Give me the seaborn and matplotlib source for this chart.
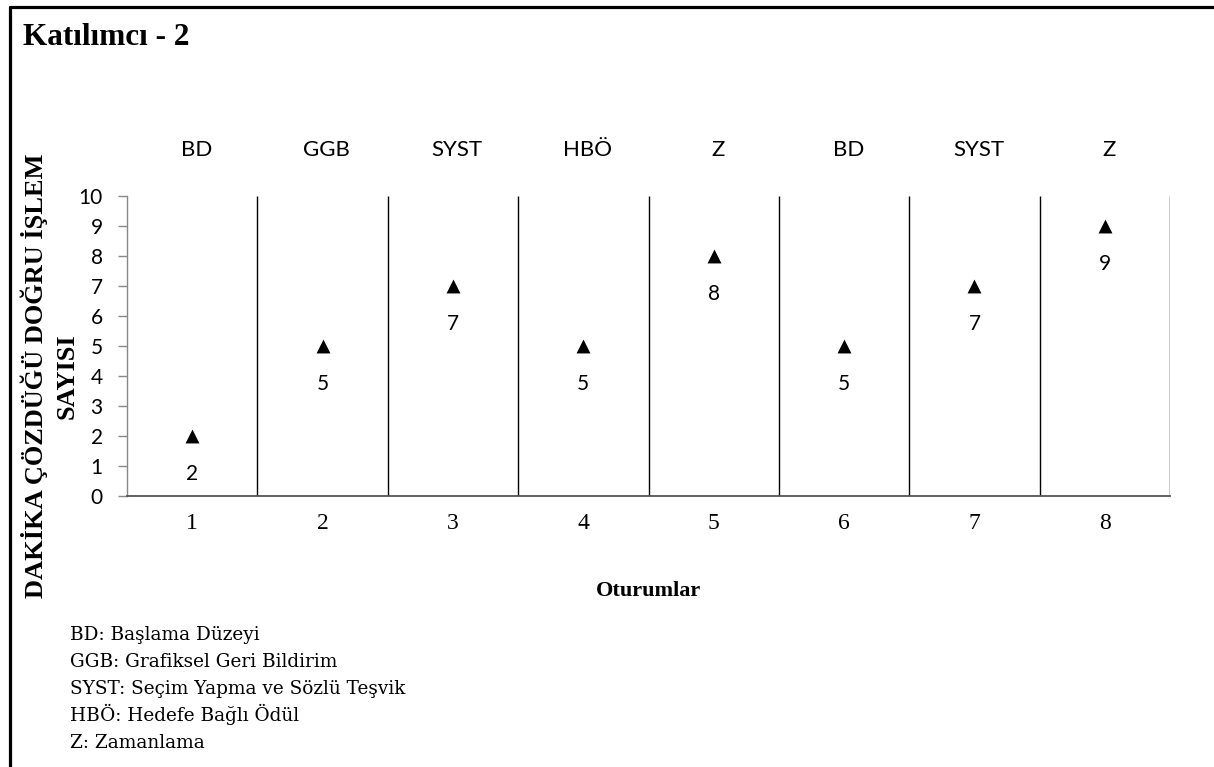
import numpy as np
import pandas as pd
import matplotlib
matplotlib.use('Agg')
import matplotlib.pyplot as plt
import seaborn as sns
from matplotlib.lines import Line2D

# chart data
sessions = [1, 2, 3, 4, 5, 6, 7, 8]
phases = ['BD', 'GGB', 'SYST', 'HBÖ', 'Z', 'BD', 'SYST', 'Z']
correct = [2, 5, 7, 5, 8, 5, 7, 9]
y_ticks = [0, 1, 2, 3, 4, 5, 6, 7, 8, 9, 10]
legend_lines = ['BD: Başlama Düzeyi',
                'GGB: Grafiksel Geri Bildirim',
                'SYST: Seçim Yapma ve Sözlü Teşvik',
                'HBÖ: Hedefe Bağlı Ödül',
                'Z: Zamanlama']

sns.set_theme(style='white')
plt.rcParams['font.family'] = ['Lato', 'DejaVu Sans']
plt.rcParams['text.color'] = 'black'

df = pd.DataFrame({'Oturum': sessions, 'Dogru': correct, 'Evre': phases})

fig = plt.figure(figsize=(12.14, 7.67), dpi=100)
ax = fig.add_axes([0.1046, 0.3533, 0.8592, 0.3912])

sns.scatterplot(x='Oturum', y='Dogru', data=df, marker='^', color='black',
                s=100, edgecolor='black', linewidth=0, ax=ax, zorder=3)

# phase boundaries
ax.vlines(np.array(sessions) + 0.5, 0, 10, color='black', linewidth=1.0)

# value labels under markers and phase names above
for x, y, p in zip(sessions, correct, phases):
    ax.annotate(str(y), (x, y), xytext=(0, -20), textcoords='offset points',
                ha='center', va='top', fontsize=15, color='black')
    ax.annotate(p, (x, 10), xytext=(3, 26), textcoords='offset points',
                ha='center', va='bottom', fontsize=16, color='black')

ax.set_xlim(0.5, 8.5)
ax.set_ylim(0, 10)
ax.set_yticks(y_ticks)
ax.set_xticks(sessions)
ax.set_xticklabels([str(s) for s in sessions],
                   family=['Liberation Serif'], fontsize=17)
ax.tick_params(axis='x', length=0, pad=12, colors='black')
ax.tick_params(axis='y', left=True, length=6.5, width=1, color='#888888',
               pad=11, labelsize=15, labelcolor='black')

for side in ['top', 'right']:
    ax.spines[side].set_visible(False)
ax.spines['left'].set_color('#888888')
ax.spines['left'].set_linewidth(1.0)
ax.spines['bottom'].set_color('#555555')
ax.spines['bottom'].set_linewidth(1.3)

ax.set_xlabel('Oturumlar', family=['Liberation Serif'], fontweight='bold',
              fontsize=16, labelpad=34, color='black')
ax.set_ylabel('')
fig.text(0.028, 0.51, 'DAKİKA ÇÖZDÜĞÜ DOĞRU İŞLEM', rotation=90,
         family=['Liberation Serif'], fontweight='bold', fontsize=19,
         ha='center', va='center')
fig.text(0.055, 0.51, 'SAYISI', rotation=90,
         family=['Liberation Serif'], fontweight='bold', fontsize=19,
         ha='center', va='center')

fig.text(0.019, 1 - 45 / 767, 'Katılımcı - 2', family=['Liberation Serif'],
         fontweight='bold', fontsize=22.5, ha='left', va='baseline')

for i, line in enumerate(legend_lines):
    fig.text(0.058, 1 - (640 + i * 27) / 767, line,
             family=['DejaVu Serif'], fontsize=13.3, ha='left',
             va='baseline')

# frame on top and left edges
fig.add_artist(Line2D([0.0082, 0.0082], [0, 0.9905],
                      transform=fig.transFigure, color='black',
                      linewidth=2.3))
fig.add_artist(Line2D([0.0082, 1], [0.9905, 0.9905],
                      transform=fig.transFigure, color='black',
                      linewidth=2.3))

plt.savefig('out.png', dpi=100)
